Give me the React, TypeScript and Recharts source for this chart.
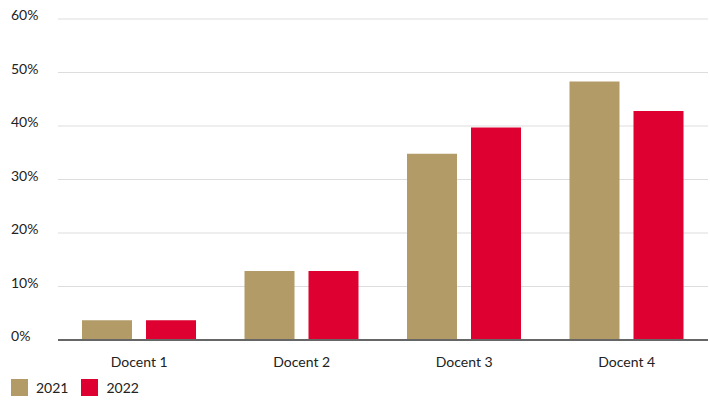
import React from "react";
import { BarChart, Bar, XAxis, YAxis, CartesianGrid, Legend } from "recharts";

const categories = ["Docent 1", "Docent 2", "Docent 3", "Docent 4"];
const values2021 = [3.7, 12.9, 34.8, 48.3];
const values2022 = [3.7, 12.9, 39.7, 42.8];
const yTicks = [0, 10, 20, 30, 40, 50, 60];
const seriesNames = ["2021", "2022"];
const colors = ["#B29B67", "#DD0031"];

const data = categories.map((c, i) => ({
  name: c,
  v2021: values2021[i],
  v2022: values2022[i],
}));

const FONT = "Lato, 'Noto Sans', sans-serif";

const YTick = (props: any) => {
  const { y, payload } = props;
  return (
    <text x={11} y={y + 1} textAnchor="start" fill="#222" fontSize={14} fontFamily={FONT}>
      {payload.value}%
    </text>
  );
};

const XTick = (props: any) => {
  const { x, payload } = props;
  return (
    <text x={x} y={367} textAnchor="middle" fill="#222" fontSize={14} fontFamily={FONT}>
      {payload.value}
    </text>
  );
};

const LegendContent = () => (
  <div style={{ display: "flex", alignItems: "flex-end", height: 24, paddingLeft: 11, fontFamily: FONT, fontSize: 14, color: "#222" }}>
    {seriesNames.map((n, i) => (
      <div key={n} style={{ display: "flex", alignItems: "center", marginRight: 13 }}>
        <div style={{ width: 17, height: 17, background: colors[i], marginRight: 8 }} />
        <span>{n}</span>
      </div>
    ))}
  </div>
);

export default function App() {
  return (
    <div style={{ position: "absolute", left: 0, top: 0, background: "#fff" }}>
      <BarChart
        width={710}
        height={400}
        data={data}
        margin={{ top: 19, right: 2, left: 0, bottom: 4 }}
        barCategoryGap={24}
        barGap={14}
      >
        <CartesianGrid vertical={false} stroke="#dddddd" strokeWidth={1} />
        <YAxis
          width={58}
          domain={[0, 60]}
          ticks={yTicks}
          axisLine={false}
          tickLine={false}
          tick={<YTick />}
          interval={0}
        />
        <XAxis
          dataKey="name"
          height={32}
          axisLine={{ stroke: "#666", strokeWidth: 2 }}
          tickLine={false}
          tick={<XTick />}
          interval={0}
        />
        <Legend
          verticalAlign="bottom"
          align="left"
          wrapperStyle={{ left: 0, width: 710 }}
          content={<LegendContent />}
        />
        <Bar dataKey="v2021" name="2021" fill={colors[0]} isAnimationActive={false} />
        <Bar dataKey="v2022" name="2022" fill={colors[1]} isAnimationActive={false} />
      </BarChart>
    </div>
  );
}
